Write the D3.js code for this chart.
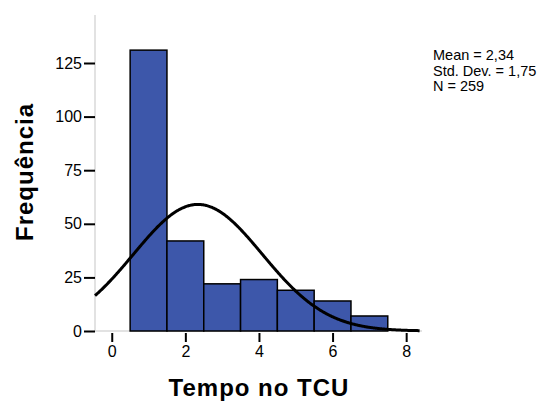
<!DOCTYPE html>
<html><head><meta charset="utf-8">
<script src="https://cdn.jsdelivr.net/npm/d3@7"></script>
<style>body{margin:0;background:#fff}svg{display:block}</style>
</head><body>
<svg id="c" width="556" height="410"></svg>
<script>
const binStarts = [0.5, 1.5, 2.5, 3.5, 4.5, 5.5, 6.5];
const binWidth = 1;
const counts = [131, 42, 22, 24, 19, 14, 7];
const xTicks = [0, 2, 4, 6, 8];
const yTicks = [0, 25, 50, 75, 100, 125];
const meanVal = 2.34, sdVal = 1.75, nVal = 259;
const statLines = ["Mean = 2,34", "Std. Dev. = 1,75", "N = 259"];

const svg = d3.select("#c");
const font = "'Liberation Sans', Arial, sans-serif";
const pLeft = 95, pRight = 422, pTop = 15, pBottom = 331;
const x = d3.scaleLinear().domain([-0.455, 8.43]).range([pLeft, pRight]);
const y = d3.scaleLinear().domain([0, 125]).range([pBottom, 63]);

// axis frame lines (gray)
svg.append("line").attr("x1", pLeft).attr("x2", pLeft).attr("y1", pTop).attr("y2", pBottom)
  .attr("stroke", "#d9d9d9").attr("stroke-width", 1.5);
svg.append("line").attr("x1", pLeft).attr("x2", pRight).attr("y1", pBottom).attr("y2", pBottom)
  .attr("stroke", "#d9d9d9").attr("stroke-width", 1.5);

// bars
svg.append("g").selectAll("rect").data(counts).join("rect")
  .attr("x", (d, i) => x(binStarts[i]))
  .attr("width", (d, i) => x(binStarts[i] + binWidth) - x(binStarts[i]))
  .attr("y", d => y(d))
  .attr("height", d => y(0) - y(d))
  .attr("fill", "#3d57aa").attr("stroke", "#000").attr("stroke-width", 1.5);

// normal curve from mean/sd/N
const pdf = v => nVal * binWidth / (sdVal * Math.sqrt(2 * Math.PI)) * Math.exp(-0.5 * ((v - meanVal) / sdVal) ** 2);
const xs = d3.range(x.domain()[0], 8.38, 0.02);
svg.append("path").datum(xs)
  .attr("d", d3.line().x(v => x(v)).y(v => y(pdf(v))).curve(d3.curveBasis))
  .attr("fill", "none").attr("stroke", "#000").attr("stroke-width", 3);

// y axis
const yAxis = svg.append("g").attr("transform", `translate(${pLeft},0)`)
  .call(d3.axisLeft(y).tickValues(yTicks).tickSize(11).tickPadding(2));
yAxis.select(".domain").remove();
yAxis.selectAll(".tick line").attr("stroke", "#000").attr("stroke-width", 2);
yAxis.selectAll(".tick text").attr("font-family", font).attr("font-size", 16).attr("fill", "#000");

// x axis
const xAxis = svg.append("g").attr("transform", `translate(0,${pBottom + 2})`)
  .call(d3.axisBottom(x).tickValues(xTicks).tickSize(9).tickPadding(4));
xAxis.select(".domain").remove();
xAxis.selectAll(".tick line").attr("stroke", "#000").attr("stroke-width", 2);
xAxis.selectAll(".tick text").attr("font-family", font).attr("font-size", 16).attr("fill", "#000");

// titles
svg.append("text").attr("x", 259).attr("y", 396).attr("text-anchor", "middle")
  .attr("font-family", font).attr("font-weight", "bold").attr("font-size", 24)
  .attr("letter-spacing", 1).text("Tempo no TCU");
svg.append("text").attr("transform", "translate(33,172) rotate(-90)").attr("text-anchor", "middle")
  .attr("font-family", font).attr("font-weight", "bold").attr("font-size", 24)
  .attr("letter-spacing", 1).text("Frequência");

// stats
svg.append("g").selectAll("text").data(statLines).join("text")
  .attr("x", 433).attr("y", (d, i) => 60 + i * 15.5)
  .attr("font-family", font).attr("font-size", 14.5).attr("fill", "#000").text(d => d);
</script>
</body></html>
